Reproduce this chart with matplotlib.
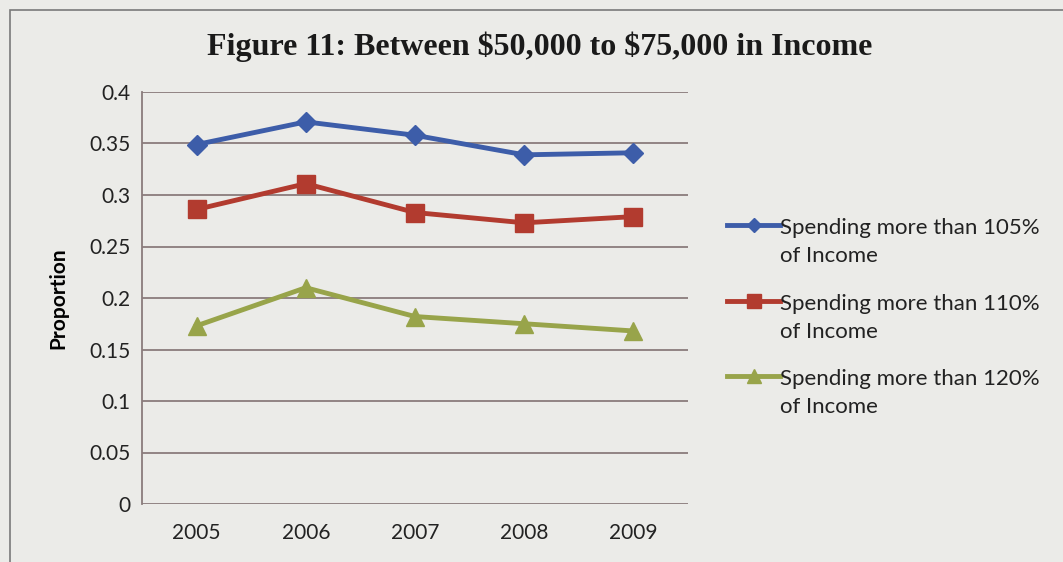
"""
    Proportion of households spending beyond their income,
    $50,000 to $75,000 income band, 2005-2009.
"""

import numpy as np
from matplotlib import pyplot as plt
from matplotlib import patches
from matplotlib.lines import Line2D

years = ['2005', '2006', '2007', '2008', '2009']
over_105 = [0.349, 0.371, 0.358, 0.339, 0.341]
over_110 = [0.286, 0.311, 0.283, 0.273, 0.279]
over_120 = [0.173, 0.210, 0.182, 0.175, 0.168]
labels = ['Spending more than 105%\nof Income',
          'Spending more than 110%\nof Income',
          'Spending more than 120%\nof Income']

yticks = np.arange(0, 0.41, 0.05)
yticklabels = ['0', '0.05', '0.1', '0.15', '0.2', '0.25', '0.3', '0.35', '0.4']

bg = '#ebebe8'
grid = '#8a7c7c'
sans = ['Lato', 'Open Sans', 'DejaVu Sans']
W, H = 1063, 562

fig = plt.figure(figsize=(W / 100, H / 100), dpi=100, facecolor=bg)
ax = fig.add_axes([142 / W, 1 - 504 / H, 546 / W, 412 / H])
ax.set_facecolor(bg)

# outer chart frame
fig.patches.append(patches.Rectangle((10 / W, -0.05), 1.1, 1 - 10 / H + 0.05,
                                     transform=fig.transFigure, fill=False,
                                     edgecolor='#7a7a7a', linewidth=1.2))

styles = [('#3d5da9', 'D', 10), ('#b23b2f', 's', 13), ('#98a44a', '^', 13)]
x = np.arange(len(years))
for vals, (col, mk, ms) in zip([over_105, over_110, over_120], styles):
    ax.plot(x, vals, color=col, lw=3.5, marker=mk, ms=ms)

ax.set_xlim(-0.5, 4.5)
ax.set_ylim(0, 0.4)
ax.set_yticks(yticks)
ax.set_yticklabels(yticklabels)
ax.set_xticks(x)
ax.set_xticklabels(years)
ax.yaxis.grid(True, color=grid, lw=1.3)
ax.set_axisbelow(True)
for side in ['top', 'right', 'bottom']:
    ax.spines[side].set_visible(False)
ax.spines['left'].set_color(grid)
ax.spines['left'].set_linewidth(1.3)
ax.tick_params(length=0, labelsize=15, pad=8)
ax.tick_params(axis='x', pad=14)
for lab in ax.get_xticklabels() + ax.get_yticklabels():
    lab.set_family(sans)
    lab.set_color('#222222')

ax.set_ylabel('Proportion', family=sans, fontsize=15, fontweight='bold',
              labelpad=15)

fig.text(540 / W, 1 - 47 / H, r'Figure 11: Between \$50,000 to \$75,000 in Income',
         ha='center', va='center', fontsize=23, fontweight='bold',
         family=['Liberation Serif', 'DejaVu Serif'], color='#1a1a1a')

# legend: handle sits level with the first line of each label
for i, (lab, (col, mk, ms)) in enumerate(zip(labels, styles)):
    yrow = 225 + 75.5 * i
    ypos = 1 - yrow / H
    fig.add_artist(Line2D([727 / W, 780 / W], [ypos, ypos], color=col, lw=3.5,
                          transform=fig.transFigure))
    fig.add_artist(Line2D([753.5 / W], [ypos], color=col, marker=mk,
                          ms=ms * 0.75, transform=fig.transFigure))
    fig.text(780 / W, 1 - (yrow - 7) / H, lab, ha='left', va='top',
             family=sans, fontsize=16, color='#222222', linespacing=1.5)

fig.savefig('out.png', dpi=100, facecolor=bg)
